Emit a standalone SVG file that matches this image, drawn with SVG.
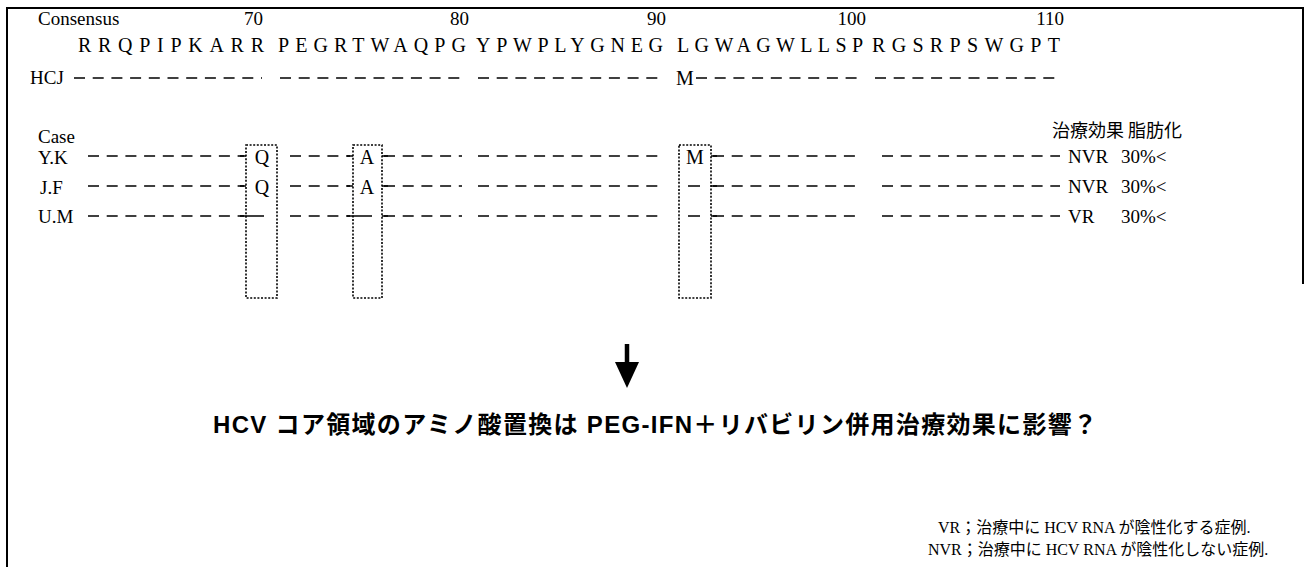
<svg xmlns="http://www.w3.org/2000/svg" width="1307" height="567" viewBox="0 0 1307 567">
<style>
  .t{font-family:"Liberation Serif","Noto Sans CJK JP",serif;fill:#000}
  .lab{font-size:19px}
  .num{font-size:19px;text-anchor:end}
  .seq{font-size:20px}
  .res{font-size:20px;text-anchor:middle}
  .jp{font-family:"Liberation Serif","Noto Sans CJK JP",serif;font-size:16px;fill:#000}
  .hd{font-family:"Noto Sans CJK JP",sans-serif;font-size:18px;fill:#000}
  .main{font-family:"Liberation Sans","Noto Sans CJK JP",sans-serif;font-weight:bold;font-size:24px;fill:#000}
  .d{stroke:#000;stroke-width:1.6;stroke-dasharray:11 7.7;fill:none}
  .tick{stroke:#000;stroke-width:1.6;fill:none}
  .box{fill:none;stroke:#000;stroke-width:1.6;stroke-dasharray:2 1.6}
  .frame{stroke:#000;stroke-width:2;fill:none}
</style>
<defs>
  <marker id="ah" markerUnits="userSpaceOnUse" markerWidth="26" markerHeight="24" refX="1" refY="12" orient="auto" viewBox="0 0 26 24">
    <path d="M0,0 L26,12 L0,24 Z" fill="#000"/>
  </marker>
</defs>
<rect width="1307" height="567" fill="#fff"/>

<g id="frame">
  <path class="frame" d="M7,567 L7,8 L1303,8 L1303,284"/>
</g>

<g id="header">
  <text class="t lab" x="38" y="25">Consensus</text>
  <text class="t num" x="263" y="25">70</text>
  <text class="t num" x="469" y="25">80</text>
  <text class="t num" x="666" y="25">90</text>
  <text class="t num" x="866" y="25">100</text>
  <text class="t num" x="1064" y="25">110</text>
  <text class="t seq" x="78" y="52" textLength="186" lengthAdjust="spacing">RRQPIPKARR</text>
  <text class="t seq" x="278" y="52" textLength="188" lengthAdjust="spacing">PEGRTWAQPG</text>
  <text class="t seq" x="476" y="52" textLength="187" lengthAdjust="spacing">YPWPLYGNEG</text>
  <text class="t seq" x="677" y="52" textLength="186" lengthAdjust="spacing">LGWAGWLLSP</text>
  <text class="t seq" x="872" y="52" textLength="188" lengthAdjust="spacing">RGSRPSWGPT</text>
</g>

<g id="row-hcj">
  <text class="t lab" x="30" y="84">HCJ</text>
  <path class="d" d="M74,78 H262 M280,78 H467 M478,78 H662 M696,78 H862 M875,78 H1059"/>
  <text class="t res" x="685" y="85">M</text>
</g>

<g id="col-labels">
  <text class="t lab" x="38" y="143">Case</text>
  <text class="hd" x="1052" y="137">治療効果 脂肪化</text>
</g>

<g id="boxes">
  <rect class="box" x="246" y="145" width="31" height="153"/>
  <rect class="box" x="353" y="145" width="29" height="153"/>
  <rect class="box" x="679" y="145" width="32" height="153"/>
</g>

<g id="row-yk">
  <text class="t lab" x="38" y="164">Y.K</text>
  <path class="d" d="M88,156 H244 M290,156 H350 M384,156 H462 M478,156 H662 M713,156 H862 M882,156 H1060"/>
  <path class="tick" d="M240,156 H246 M347,156 H353 M382,156 H388 M711,156 H717"/>
  <text class="t res" x="262" y="164">Q</text>
  <text class="t res" x="367" y="164">A</text>
  <text class="t res" x="695" y="164">M</text>
  <text class="t lab" x="1068" y="163">NVR</text>
  <text class="t lab" x="1121" y="163">30%&lt;</text>
</g>

<g id="row-jf">
  <text class="t lab" x="40" y="194">J.F</text>
  <path class="d" d="M88,186 H244 M290,186 H350 M384,186 H462 M478,186 H662 M713,186 H862 M882,186 H1060"/>
  <path class="tick" d="M240,186 H246 M347,186 H353 M382,186 H388 M711,186 H717 M688,186 H700"/>
  <text class="t res" x="262" y="194">Q</text>
  <text class="t res" x="367" y="194">A</text>
  <text class="t lab" x="1068" y="193">NVR</text>
  <text class="t lab" x="1121" y="193">30%&lt;</text>
</g>

<g id="row-um">
  <text class="t lab" x="38" y="223">U.M</text>
  <path class="d" d="M88,216 H244 M290,216 H350 M384,216 H462 M478,216 H662 M713,216 H862 M882,216 H1060"/>
  <path class="tick" d="M240,216 H264 M347,216 H372 M382,216 H388 M688,216 H700 M711,216 H717"/>
  <text class="t lab" x="1068" y="223">VR</text>
  <text class="t lab" x="1121" y="223">30%&lt;</text>
</g>

<g id="connectors">
  <line x1="627" y1="344" x2="627" y2="363" stroke="#000" stroke-width="4.5" marker-end="url(#ah)"/>
</g>

<g id="question">
  <text class="main" x="213" y="433" textLength="884" lengthAdjust="spacing">HCV コア領域のアミノ酸置換は PEG-IFN＋リバビリン併用治療効果に影響？</text>
</g>

<g id="legend">
  <text class="jp" x="938" y="533">VR；治療中に HCV RNA が陰性化する症例.</text>
  <text class="jp" x="928" y="555">NVR；治療中に HCV RNA が陰性化しない症例.</text>
</g>
</svg>
